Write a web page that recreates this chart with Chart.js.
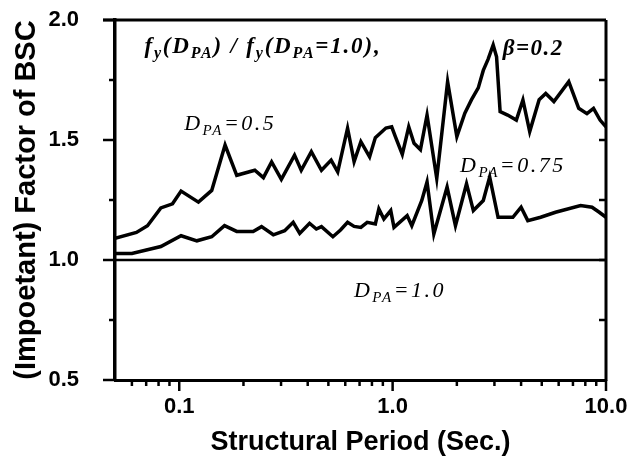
<!DOCTYPE html>
<html>
<head>
<meta charset="utf-8">
<script src="https://cdn.jsdelivr.net/npm/chart.js@4/dist/chart.umd.min.js"></script>
<style>
  html, body { margin: 0; padding: 0; background: #fff; }
  #wrap { width: 630px; height: 464px; }
</style>
</head>
<body>
<div id="wrap"><canvas id="bsc"></canvas></div>
<script>
// D_PA = 0.5 curve
var period05 = [0.05, 0.063, 0.071, 0.082, 0.093, 0.102, 0.123, 0.142, 0.164, 0.186, 0.226, 0.248, 0.271, 0.301,
  0.347, 0.373, 0.416, 0.464, 0.515, 0.553, 0.615, 0.66, 0.71, 0.78, 0.83, 0.93, 0.99, 1.03, 1.11, 1.19, 1.26,
  1.35, 1.45, 1.61, 1.81, 2.0, 2.18, 2.34, 2.52, 2.66, 2.80, 2.96, 3.07, 3.19, 3.46, 3.80, 4.08, 4.39, 4.86,
  5.22, 5.70, 6.69, 7.45, 8.14, 8.74, 9.38, 10.0];
var factor05 = [1.09, 1.115, 1.143, 1.217, 1.234, 1.287, 1.241, 1.29, 1.479, 1.353, 1.374, 1.343, 1.409, 1.336,
  1.437, 1.374, 1.451, 1.374, 1.416, 1.367, 1.549, 1.41, 1.493, 1.43, 1.51, 1.55, 1.555, 1.514, 1.44, 1.555, 1.486,
  1.46, 1.604, 1.34, 1.743, 1.514, 1.612, 1.667, 1.717, 1.79, 1.836, 1.896, 1.847, 1.618, 1.604, 1.583, 1.667, 1.535, 1.668,
  1.694, 1.66, 1.743, 1.632, 1.61, 1.632, 1.583, 1.555];

// D_PA = 0.75 curve
var period075 = [0.05, 0.06, 0.082, 0.102, 0.121, 0.142, 0.163, 0.186, 0.222, 0.243, 0.276, 0.312, 0.342, 0.367,
  0.408, 0.439, 0.464, 0.525, 0.57, 0.615, 0.66, 0.71, 0.76, 0.83, 0.862, 0.91, 0.98, 1.015, 1.17, 1.23, 1.37,
  1.45, 1.56, 1.80, 1.97, 2.22, 2.39, 2.66, 2.85, 3.12, 3.66, 4.0, 4.30, 4.94, 5.8, 7.6, 8.6, 9.3, 10.0];
var factor075 = [1.027, 1.027, 1.056, 1.101, 1.08, 1.097, 1.143, 1.119, 1.119, 1.139, 1.105, 1.122, 1.157, 1.111,
  1.153, 1.129, 1.139, 1.097, 1.125, 1.157, 1.14, 1.136, 1.157, 1.15, 1.213, 1.171, 1.206, 1.136, 1.185, 1.143, 1.248,
  1.325, 1.108, 1.304, 1.143, 1.318, 1.206, 1.248, 1.346, 1.178, 1.178, 1.22, 1.164, 1.178, 1.199, 1.227, 1.22, 1.199, 1.178];

// D_PA = 1.0 reference
var period10 = [0.05, 10.0];
var factor10 = [1.0, 1.0];

var xTickValues = [0.1, 1, 10];
var xTickText = ['0.1', '1.0', '10.0'];
var xMinorTicks = [0.06, 0.07, 0.08, 0.09, 0.2, 0.3, 0.4, 0.5, 0.6, 0.7, 0.8, 0.9, 2, 3, 4, 5, 6, 7, 8, 9];
var yMajorTicks = [0.5, 1.0, 1.5, 2.0];
var yMinorTicks = [0.75, 1.25, 1.75];

function pts(xs, ys) {
  return xs.map(function (v, i) { return { x: v, y: ys[i] }; });
}

// text labels inside the plot, anchored in data units
var notes = [
  { x: 0.0687, y: 1.862, size: 23, bold: true, sp: 1.8, runs: [['f'], ['y', 1], ['(D'], ['PA', 1], [') / f'], ['y', 1], ['(D'], ['PA', 1], ['=1.0),']] },
  { x: 3.28, y: 1.854, size: 23, bold: true, sp: 1.5, runs: [['\u03B2=0.2']] },
  { x: 0.1055, y: 1.542, size: 22, sp: 2.5, runs: [['D'], ['PA', 1], ['=0.5']] },
  { x: 2.07, y: 1.367, size: 22, sp: 2.5, runs: [['D'], ['PA', 1], ['=0.75']] },
  { x: 0.659, y: 0.846, size: 22, sp: 2.5, runs: [['D'], ['PA', 1], ['=1.0']] }
];

var notesPlugin = {
  id: 'notes',
  afterDatasetsDraw: function (chart) {
    var ctx = chart.ctx, sx = chart.scales.x, sy = chart.scales.y;
    ctx.save();
    ctx.fillStyle = '#000';
    ctx.textBaseline = 'alphabetic';
    ctx.textAlign = 'left';
    notes.forEach(function (n) {
      var px = sx.getPixelForValue(n.x), py = sy.getPixelForValue(n.y);
      n.runs.forEach(function (r) {
        var sub = r[1] === 1;
        var s = sub ? Math.round(n.size * 0.68) : n.size;
        ctx.font = (n.bold ? 'italic bold ' : 'italic ') + s + 'px "Liberation Serif"';
        ctx.letterSpacing = n.sp + 'px';
        ctx.fillText(r[0], px, sub ? py + n.size * 0.22 : py);
        px += ctx.measureText(r[0]).width;
      });
    });
    ctx.restore();
  }
};

var framePlugin = {
  id: 'frame',
  afterDraw: function (chart) {
    var ctx = chart.ctx, a = chart.chartArea, sx = chart.scales.x, sy = chart.scales.y;
    function seg(x1, y1, x2, y2) { ctx.beginPath(); ctx.moveTo(x1, y1); ctx.lineTo(x2, y2); ctx.stroke(); }
    ctx.save();
    ctx.strokeStyle = '#000';
    ctx.lineWidth = 3;
    seg(a.left - 12, a.top, a.right, a.top);
    seg(a.right, a.top, a.right, a.bottom + 1);
    ctx.lineWidth = 2.5;
    yMajorTicks.forEach(function (v) { var p = sy.getPixelForValue(v); seg(a.left - 12, p, a.left, p); });
    yMinorTicks.forEach(function (v) { var p = sy.getPixelForValue(v); seg(a.left - 6, p, a.left, p); });
    yMinorTicks.concat([1.0, 1.5]).forEach(function (v) { var p = sy.getPixelForValue(v); seg(a.right - 7, p, a.right, p); });
    xTickValues.forEach(function (v) { var p = sx.getPixelForValue(v); seg(p, a.bottom, p, a.bottom + 11); });
    xMinorTicks.forEach(function (v) { var p = sx.getPixelForValue(v); seg(p, a.bottom, p, a.bottom + 6); });
    ctx.restore();
  }
};

var line = function (label, xs, ys, w) {
  return { label: label, data: pts(xs, ys), borderColor: '#000', borderWidth: w, pointRadius: 0, tension: 0, fill: false };
};

function noPad(s) { s.paddingTop = 0; s.paddingBottom = 0; s.paddingLeft = 0; s.paddingRight = 0; }

var bsc = new Chart(document.getElementById('bsc'), {
  type: 'line',
  data: {
    datasets: [
      line('DPA=0.5', period05, factor05, 3.5),
      line('DPA=0.75', period075, factor075, 3.5),
      line('DPA=1.0', period10, factor10, 2.5)
    ]
  },
  options: {
    responsive: true,
    maintainAspectRatio: false,
    animation: false,
    devicePixelRatio: 1,
    layout: { padding: { top: 20, right: 24, left: 0, bottom: 0 } },
    plugins: { legend: { display: false }, tooltip: { enabled: false } },
    scales: {
      x: {
        type: 'logarithmic',
        min: 0.05, max: 10,
        bounds: 'data',
        grid: { display: false, drawTicks: false },
        border: { display: true, color: '#000', width: 3 },
        afterBuildTicks: function (s) { s.ticks = xTickValues.map(function (v) { return { value: v }; }); },
        afterFit: function (s) { s.height = 84; noPad(s); },
        ticks: {
          autoSkip: false, maxRotation: 0, padding: 14, color: '#000',
          font: { family: '"Liberation Sans"', size: 22, weight: 'bold' },
          callback: function (v) { var i = xTickValues.indexOf(v); return i < 0 ? '' : xTickText[i]; }
        },
        title: {
          display: true, text: 'Structural Period (Sec.)', color: '#000',
          font: { family: '"Liberation Sans"', size: 27, weight: 'bold' },
          padding: { top: 0, bottom: 5 }
        }
      },
      y: {
        min: 0.5, max: 2.0,
        grid: { display: false, drawTicks: false },
        border: { display: true, color: '#000', width: 3.5 },
        afterFit: function (s) { s.width = 115; noPad(s); },
        ticks: {
          stepSize: 0.5, padding: 36, color: '#000',
          font: { family: '"Liberation Sans"', size: 22, weight: 'bold' },
          callback: function (v) { return v.toFixed(1); }
        },
        title: {
          display: true, text: '(Impoetant) Factor of BSC', color: '#000',
          font: { family: '"Liberation Sans"', size: 29, weight: 'bold' },
          padding: { top: 10, bottom: 0 }
        }
      }
    }
  },
  plugins: [notesPlugin, framePlugin]
});
</script>
</body>
</html>
